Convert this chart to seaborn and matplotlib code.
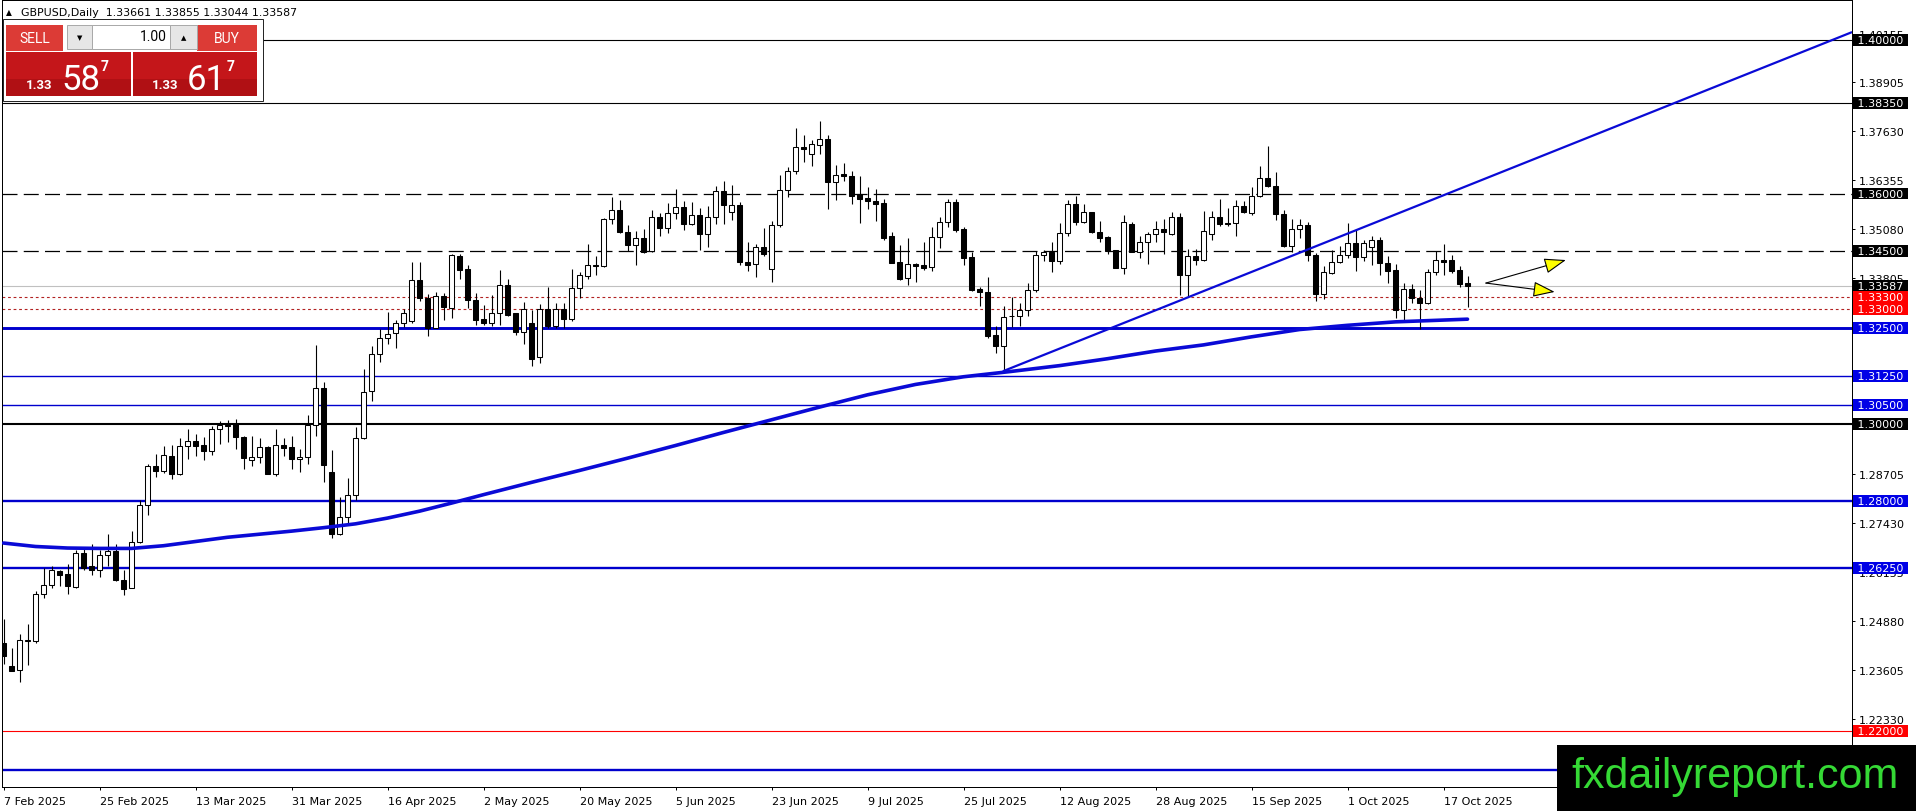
import numpy as np
import matplotlib
matplotlib.use("Agg")
import matplotlib.pyplot as plt
import matplotlib.transforms as mtransforms
from matplotlib.patches import Rectangle
import seaborn as sns

# ---------------- data ----------------
opens = [1.2430, 1.2371, 1.2359, 1.2435, 1.2435, 1.2558, 1.2581, 1.2618, 1.2609, 1.2576,
         1.2663, 1.2629, 1.2619, 1.2660, 1.2668, 1.2595, 1.2574, 1.2694, 1.2788, 1.2890,
         1.2877, 1.2917, 1.2870, 1.2942, 1.2957, 1.2945, 1.2930, 1.2986, 1.2997, 1.3000,
         1.2966, 1.2907, 1.2915, 1.2941, 1.2870, 1.2946, 1.2941, 1.2909, 1.2915, 1.2998,
         1.3095, 1.2876, 1.2714, 1.2758, 1.2815, 1.2963, 1.3086, 1.3183, 1.3225, 1.3236,
         1.3262, 1.3267, 1.3374, 1.3327, 1.3250, 1.3334, 1.3302, 1.3438, 1.3403, 1.3323,
         1.3273, 1.3262, 1.3290, 1.3363, 1.3288, 1.3240, 1.3262, 1.3175, 1.3300, 1.3255,
         1.3300, 1.3273, 1.3355, 1.3385, 1.3415, 1.3411, 1.3533, 1.3557, 1.3500, 1.3465,
         1.3484, 1.3451, 1.3539, 1.3511, 1.3550, 1.3565, 1.3520, 1.3545, 1.3494, 1.3539,
         1.3607, 1.3553, 1.3571, 1.3423, 1.3416, 1.3462, 1.3403, 1.3519, 1.3610, 1.3660,
         1.3722, 1.3704, 1.3727, 1.3741, 1.3630, 1.3650, 1.3645, 1.3600, 1.3588, 1.3580,
         1.3575, 1.3489, 1.3421, 1.3379, 1.3416, 1.3414, 1.3410, 1.3488, 1.3527, 1.3577,
         1.3507, 1.3434, 1.3352, 1.3345, 1.3232, 1.3202, 1.3280, 1.3281, 1.3296, 1.3350,
         1.3440, 1.3448, 1.3425, 1.3497, 1.3572, 1.3525, 1.3551, 1.3500, 1.3486, 1.3453,
         1.3407, 1.3520, 1.3449, 1.3473, 1.3494, 1.3507, 1.3494, 1.3540, 1.3389, 1.3438,
         1.3428, 1.3496, 1.3539, 1.3524, 1.3524, 1.3567, 1.3550, 1.3593, 1.3641, 1.3621,
         1.3547, 1.3463, 1.3508, 1.3519, 1.3441, 1.3338, 1.3394, 1.3422, 1.3439, 1.3472,
         1.3435, 1.3461, 1.3480, 1.3420, 1.3400, 1.3297, 1.3352, 1.3329, 1.3314, 1.3396,
         1.3428, 1.3426, 1.3400, 1.33661]
highs = [1.2491, 1.2417, 1.2452, 1.2480, 1.2565, 1.2624, 1.2631, 1.2619, 1.2635, 1.2671,
         1.2677, 1.2687, 1.2671, 1.2713, 1.2687, 1.2619, 1.2722, 1.2802, 1.2897, 1.2922,
         1.2943, 1.2945, 1.2963, 1.2987, 1.2974, 1.2965, 1.2996, 1.3009, 1.3010, 1.3013,
         1.2970, 1.2970, 1.2964, 1.2944, 1.2988, 1.2964, 1.2969, 1.2936, 1.3023, 1.3205,
         1.3109, 1.2931, 1.2811, 1.2860, 1.2993, 1.3143, 1.3203, 1.3247, 1.3292, 1.3271,
         1.3299, 1.3422, 1.3422, 1.3338, 1.3345, 1.3342, 1.3442, 1.3442, 1.3414, 1.3342,
         1.3310, 1.3335, 1.3400, 1.3377, 1.3290, 1.3318, 1.3296, 1.3313, 1.3357, 1.3316,
         1.3316, 1.3403, 1.3396, 1.3468, 1.3437, 1.3536, 1.3591, 1.3584, 1.3519, 1.3502,
         1.3508, 1.3557, 1.3550, 1.3576, 1.3612, 1.3581, 1.3578, 1.3562, 1.3567, 1.3621,
         1.3633, 1.3622, 1.3577, 1.3475, 1.3468, 1.3511, 1.3529, 1.3648, 1.3670, 1.3770,
         1.3752, 1.3739, 1.3788, 1.3752, 1.3674, 1.3679, 1.3658, 1.3646, 1.3618, 1.3613,
         1.3585, 1.3500, 1.3466, 1.3484, 1.3419, 1.3473, 1.3512, 1.3540, 1.3585, 1.3587,
         1.3512, 1.3448, 1.3358, 1.3384, 1.3256, 1.3308, 1.3330, 1.3315, 1.3367, 1.3450,
         1.3453, 1.3474, 1.3523, 1.3584, 1.3594, 1.3572, 1.3552, 1.3529, 1.3490, 1.3454,
         1.3544, 1.3525, 1.3490, 1.3499, 1.3529, 1.3533, 1.3551, 1.3549, 1.3455, 1.3455,
         1.3555, 1.3554, 1.3587, 1.3563, 1.3583, 1.3580, 1.3617, 1.3671, 1.3725, 1.3656,
         1.3558, 1.3534, 1.3534, 1.3527, 1.3446, 1.3411, 1.3454, 1.3463, 1.3524, 1.3506,
         1.3480, 1.3489, 1.3487, 1.3437, 1.3417, 1.3368, 1.3364, 1.3349, 1.3403, 1.3450,
         1.3470, 1.3441, 1.3411, 1.33855]
lows = [1.2374, 1.2357, 1.2329, 1.2372, 1.2430, 1.2546, 1.2574, 1.2578, 1.2557, 1.2572,
        1.2619, 1.2607, 1.2602, 1.2630, 1.2591, 1.2555, 1.2572, 1.2690, 1.2763, 1.2863,
        1.2873, 1.2857, 1.2868, 1.2909, 1.2917, 1.2906, 1.2920, 1.2948, 1.2952, 1.2935,
        1.2882, 1.2891, 1.2899, 1.2869, 1.2864, 1.2917, 1.2882, 1.2875, 1.2895, 1.2969,
        1.2849, 1.2704, 1.2712, 1.2738, 1.2802, 1.2960, 1.3060, 1.3162, 1.3209, 1.3199,
        1.3253, 1.3264, 1.3321, 1.3229, 1.3250, 1.3270, 1.3276, 1.3377, 1.3303, 1.3257,
        1.3257, 1.3255, 1.3258, 1.3281, 1.3231, 1.3208, 1.3150, 1.3160, 1.3249, 1.3251,
        1.3251, 1.3268, 1.3329, 1.3378, 1.3387, 1.3409, 1.3522, 1.3498, 1.3450, 1.3413,
        1.3446, 1.3449, 1.3489, 1.3498, 1.3534, 1.3505, 1.3519, 1.3453, 1.3461, 1.3520,
        1.3520, 1.3532, 1.3414, 1.3399, 1.3382, 1.3438, 1.3369, 1.3512, 1.3590, 1.3652,
        1.3681, 1.3672, 1.3702, 1.3559, 1.3584, 1.3633, 1.3572, 1.3523, 1.3559, 1.3529,
        1.3480, 1.3419, 1.3376, 1.3363, 1.3371, 1.3401, 1.3399, 1.3459, 1.3514, 1.3499,
        1.3414, 1.3347, 1.3306, 1.3223, 1.3185, 1.3138, 1.3252, 1.3256, 1.3281, 1.3343,
        1.3425, 1.3397, 1.3416, 1.3490, 1.3519, 1.3523, 1.3497, 1.3474, 1.3442, 1.3405,
        1.3390, 1.3447, 1.3433, 1.3416, 1.3473, 1.3442, 1.3492, 1.3336, 1.3332, 1.3414,
        1.3425, 1.3479, 1.3515, 1.3515, 1.3489, 1.3550, 1.3543, 1.3590, 1.3617, 1.3531,
        1.3461, 1.3448, 1.3484, 1.3424, 1.3320, 1.3326, 1.3390, 1.3418, 1.3433, 1.3398,
        1.3424, 1.3413, 1.3388, 1.3366, 1.3277, 1.3266, 1.3316, 1.3247, 1.3312, 1.3387,
        1.3389, 1.3394, 1.3357, 1.33044]
closes = [1.2396, 1.2358, 1.2437, 1.2438, 1.2558, 1.2581, 1.2619, 1.2607, 1.2578, 1.2663,
          1.2626, 1.2619, 1.2660, 1.2668, 1.2594, 1.2571, 1.2694, 1.2788, 1.2890, 1.2877,
          1.2918, 1.2870, 1.2942, 1.2957, 1.2943, 1.2930, 1.2986, 1.2997, 1.2996, 1.2965,
          1.2912, 1.2915, 1.2941, 1.2871, 1.2945, 1.2937, 1.2910, 1.2914, 1.2998, 1.3095,
          1.2894, 1.2714, 1.2758, 1.2815, 1.2964, 1.3084, 1.3183, 1.3225, 1.3235, 1.3262,
          1.3290, 1.3374, 1.3327, 1.3250, 1.3334, 1.3305, 1.3440, 1.3401, 1.3323, 1.3271,
          1.3262, 1.3290, 1.3363, 1.3284, 1.3240, 1.3300, 1.3170, 1.3300, 1.3255, 1.3300,
          1.3273, 1.3355, 1.3387, 1.3415, 1.3412, 1.3534, 1.3557, 1.3500, 1.3465, 1.3484,
          1.3449, 1.3539, 1.3511, 1.3550, 1.3565, 1.3520, 1.3545, 1.3494, 1.3539, 1.3606,
          1.3571, 1.3571, 1.3423, 1.3415, 1.3462, 1.3444, 1.3519, 1.3610, 1.3660, 1.3722,
          1.3717, 1.3728, 1.3741, 1.3630, 1.3649, 1.3646, 1.3594, 1.3587, 1.3582, 1.3573,
          1.3484, 1.3420, 1.3377, 1.3416, 1.3412, 1.3407, 1.3488, 1.3527, 1.3577, 1.3506,
          1.3433, 1.3349, 1.3345, 1.3230, 1.3202, 1.3278, 1.3281, 1.3296, 1.3350, 1.3440,
          1.3448, 1.3425, 1.3497, 1.3572, 1.3525, 1.3551, 1.3499, 1.3484, 1.3451, 1.3407,
          1.3525, 1.3448, 1.3473, 1.3494, 1.3507, 1.3499, 1.3540, 1.3389, 1.3438, 1.3428,
          1.3502, 1.3539, 1.3521, 1.3520, 1.3567, 1.3551, 1.3595, 1.3641, 1.3619, 1.3546,
          1.3463, 1.3508, 1.3519, 1.3441, 1.3338, 1.3396, 1.3422, 1.3439, 1.3472, 1.3435,
          1.3472, 1.3480, 1.3420, 1.3398, 1.3297, 1.3352, 1.3329, 1.3314, 1.3396, 1.3428,
          1.3422, 1.3398, 1.3364, 1.33587]

date_labels = ["7 Feb 2025", "25 Feb 2025", "13 Mar 2025", "31 Mar 2025", "16 Apr 2025",
               "2 May 2025", "20 May 2025", "5 Jun 2025", "23 Jun 2025", "9 Jul 2025",
               "25 Jul 2025", "12 Aug 2025", "28 Aug 2025", "15 Sep 2025", "1 Oct 2025",
               "17 Oct 2025"]
date_label_bars = [0, 12, 24, 36, 48, 60, 72, 84, 96, 108, 120, 132, 144, 156, 168, 180]

ma_bars = [0, 4, 8, 12, 16, 20, 24, 28, 32, 36, 40, 44, 48, 52, 56, 60, 66, 72, 78, 84,
           90, 96, 102, 108, 114, 120, 126, 132, 138, 144, 150, 156, 162, 168, 174, 183]
ma_values = [1.2690, 1.2681, 1.2677, 1.2676, 1.2676, 1.2683, 1.2694, 1.2705, 1.2713, 1.2721,
             1.2730, 1.2740, 1.2755, 1.2773, 1.2794, 1.2816, 1.2848, 1.2879, 1.2911, 1.2944,
             1.2978, 1.3011, 1.3044, 1.3076, 1.3103, 1.3123, 1.3137, 1.3152, 1.3170, 1.3190,
             1.3206, 1.3227, 1.3246, 1.3257, 1.3266, 1.3273]

trend_bars = [125, 231]
trend_values = [1.3138, 1.4020]

level_prices = [1.40000, 1.38350, 1.36000, 1.34500, 1.33587, 1.33300, 1.33000, 1.32500,
                1.31250, 1.30500, 1.30000, 1.28000, 1.26250, 1.22000, 1.21000]
axis_ticks = [1.22330, 1.23605, 1.24880, 1.26155, 1.27430, 1.28705, 1.29980, 1.31255,
              1.32530, 1.33805, 1.35080, 1.36355, 1.37630, 1.38905, 1.40155]

arrow_start = (185.3, 1.3367)
arrow_ends = [(195.3, 1.3427), (193.9, 1.3344)]

header_symbol = "GBPUSD,Daily"
header_ohlc = ["1.33661", "1.33855", "1.33044", "1.33587"]
sell_price = ("1.33", "58", "7")
buy_price = ("1.33", "61", "7")
lot_value = "1.00"
watermark = "fxdailyreport.com"

# ---------------- styles ----------------
BLUE = "#0000cd"
level_styles = {
    1.40000: dict(color="black", lw=0.8, ls="-", box="#000000"),
    1.38350: dict(color="black", lw=0.8, ls="-", box="#000000"),
    1.36000: dict(color="black", lw=0.9, ls=(0, (12, 5)), box="#000000"),
    1.34500: dict(color="black", lw=0.9, ls=(0, (12, 5)), box="#000000"),
    1.33587: dict(color="#c0c0c0", lw=0.8, ls="-", box="#000000"),
    1.33300: dict(color="#b22222", lw=0.8, ls=(0, (2.5, 2.5)), box="#ff0000"),
    1.33000: dict(color="#b22222", lw=0.8, ls=(0, (2.5, 2.5)), box="#ff0000"),
    1.32500: dict(color=BLUE, lw=2.1, ls="-", box="#0000e6"),
    1.31250: dict(color=BLUE, lw=1.0, ls="-", box="#0000e6"),
    1.30500: dict(color=BLUE, lw=1.0, ls="-", box="#0000e6"),
    1.30000: dict(color="black", lw=1.5, ls="-", box="#000000"),
    1.28000: dict(color=BLUE, lw=1.7, ls="-", box="#0000e6"),
    1.26250: dict(color=BLUE, lw=1.7, ls="-", box="#0000e6"),
    1.22000: dict(color="#ff0000", lw=0.8, ls="-", box="#ff0000"),
    1.21000: dict(color=BLUE, lw=1.7, ls="-", box="#0000e6"),
}

W, H = 1916, 812
sns.set_theme(style="white")
plt.rcParams["font.family"] = ["DejaVu Sans"]
plt.rcParams["axes.linewidth"] = 0.72

fig = plt.figure(figsize=(W / 100, H / 100), dpi=100)
fig.patch.set_facecolor("white")

PLOT_L, PLOT_R, PLOT_T, PLOT_B = 2, 1852, 1, 788
ax = fig.add_axes([PLOT_L / W, 1 - PLOT_B / H, (PLOT_R - PLOT_L) / W, (PLOT_B - PLOT_T) / H])
ax.set_facecolor("white")

x = np.arange(len(opens))
o = np.array(opens); h = np.array(highs); l = np.array(lows); c = np.array(closes)

# levels
for p in level_prices:
    st = level_styles[p]
    ax.axhline(p, color=st["color"], lw=st["lw"], ls=st["ls"], zorder=1)

# moving average & trend line
sns.lineplot(x=ma_bars, y=ma_values, ax=ax, color="#0a0ad6", lw=2.6, zorder=5, legend=False)
sns.lineplot(x=trend_bars, y=trend_values, ax=ax, color="#0a0ad6", lw=1.6, zorder=5, legend=False)

# candles
ax.vlines(x, l, h, color="black", lw=0.8, zorder=3)
bull = c >= o
bottom = np.minimum(o, c)
height = np.abs(c - o)
ax.bar(x[bull], height[bull], bottom=bottom[bull], width=0.58, facecolor="white",
       edgecolor="black", linewidth=0.75, zorder=4)
ax.bar(x[~bull], height[~bull], bottom=bottom[~bull], width=0.58, facecolor="black",
       edgecolor="black", linewidth=0.75, zorder=4)

# arrows
for end in arrow_ends:
    ax.annotate("", xy=end, xytext=arrow_start, xycoords="data", textcoords="data",
                arrowprops=dict(arrowstyle="-|>,head_length=0.9,head_width=0.32",
                                facecolor="#ffff00", edgecolor="black", lw=0.8,
                                shrinkA=0, shrinkB=0, mutation_scale=15),
                zorder=7)

# limits
ax.set_xlim((PLOT_L - 3.5) / 8, (PLOT_R - 3.5) / 8)
ax.set_ylim(1.30 - (PLOT_B - 425) / 3840, 1.30 + (425 - PLOT_T) / 3840)

# axes styling
for s in ax.spines.values():
    s.set_color("black"); s.set_linewidth(0.72); s.set_visible(True)
ax.grid(False)
ax.yaxis.tick_right()
ax.set_yticks(axis_ticks)
ax.set_yticklabels([f"{v:.5f}" for v in axis_ticks])
ax.tick_params(axis="y", which="both", left=False, right=True, labelleft=False,
               labelright=True, direction="out", length=2.2, width=0.72, pad=2.6,
               labelsize=8, colors="black")
ax.set_xticks(date_label_bars)
ax.set_xticklabels(date_labels)
ax.tick_params(axis="x", which="both", bottom=True, top=False, direction="out",
               length=2.2, width=0.72, pad=4.0, labelsize=8, colors="black")
for t in ax.get_xticklabels():
    t.set_ha("left")
ax.set_xlabel(""); ax.set_ylabel("")

# level boxes on price scale
box_tr = mtransforms.offset_copy(
    mtransforms.blended_transform_factory(ax.transAxes, ax.transData),
    fig=fig, x=2, y=0, units="dots")
for p in level_prices:
    st = level_styles[p]
    ax.text(1.0, p, f" {p:.5f} ", transform=box_tr, ha="left", va="center",
            fontsize=8, color="white", clip_on=False, zorder=20,
            bbox=dict(boxstyle="square,pad=0.08", fc=st["box"], ec="none"))


# ---------------- figure-level decorations (pixel helpers) ----------------
def frect(x0, y0, w, hgt, **kw):
    r = Rectangle((x0 / W, 1 - (y0 + hgt) / H), w / W, hgt / H,
                  transform=fig.transFigure, **kw)
    fig.add_artist(r)
    return r


def ftext(x0, y0, s, **kw):
    return fig.text(x0 / W, 1 - y0 / H, s, **kw)


# header
ftext(6, 13, "\u25B2", fontsize=5.5, va="center", ha="left", color="black")
ftext(21, 13, header_symbol + "  " + " ".join(header_ohlc), fontsize=7.9,
      va="center", ha="left", color="black")

# trade widget
frect(3, 20, 260, 82, facecolor="white", edgecolor="#202020", lw=0.7, zorder=10)
frect(6, 26, 57, 26, facecolor="#dc3b36", edgecolor="none", zorder=11)
frect(197, 26, 60, 26, facecolor="#dc3b36", edgecolor="none", zorder=11)
frect(10, 51.5, 52, 0.8, facecolor="#f29a96", edgecolor="none", zorder=12)
frect(199, 51.5, 55, 0.8, facecolor="#f29a96", edgecolor="none", zorder=12)
frect(67, 26, 25, 24, facecolor="#e6e6e6", edgecolor="#a8a8a8", lw=0.7, zorder=11)
frect(92, 26, 78, 24, facecolor="white", edgecolor="#a8a8a8", lw=0.7, zorder=11)
frect(170, 26, 27, 24, facecolor="#e6e6e6", edgecolor="#a8a8a8", lw=0.7, zorder=11)
ftext(79.5, 38, "\u25BC", fontsize=5, ha="center", va="center", color="black", zorder=13)
ftext(183.5, 38, "\u25B2", fontsize=5, ha="center", va="center", color="black", zorder=13)
ftext(167, 37, lot_value, fontsize=10, ha="right", va="center", color="black",
      family=["Roboto", "DejaVu Sans"], zorder=13)
ftext(34.5, 39, "SELL", fontsize=10, ha="center", va="center", color="white",
      family=["Roboto", "DejaVu Sans"], zorder=13)
ftext(227, 39, "BUY", fontsize=10, ha="center", va="center", color="white",
      family=["Roboto", "DejaVu Sans"], zorder=13)
frect(6, 53, 125, 44, facecolor="#c4161a", edgecolor="none", zorder=11)
frect(133, 53, 124, 44, facecolor="#c4161a", edgecolor="none", zorder=11)
frect(6, 80, 125, 17, facecolor="#b01014", edgecolor="none", zorder=11)
frect(133, 80, 124, 17, facecolor="#b01014", edgecolor="none", zorder=11)
for x0, (small, big, sup) in ((26, sell_price), (152, buy_price)):
    ftext(x0, 89, small, fontsize=9.5, fontweight="bold", ha="left", va="baseline",
          color="white", family=["Roboto", "DejaVu Sans"], zorder=13)
    ftext(x0 + 35, 89.5, big, fontsize=25, ha="left", va="baseline", color="white",
          family=["Roboto", "DejaVu Sans"], zorder=13)
    ftext(x0 + 75, 60, sup, fontsize=10, fontweight="bold", ha="left", va="top",
          color="white", family=["Roboto", "DejaVu Sans"], zorder=13)

# watermark
frect(1557, 746, W - 1557, H - 746, facecolor="black", edgecolor="none", zorder=30)
ftext(1735, 777, watermark, fontsize=31, ha="center", va="center", color="#35d935",
      family=["Liberation Sans", "DejaVu Sans"], zorder=31)

fig.savefig("out.png", dpi=100)
